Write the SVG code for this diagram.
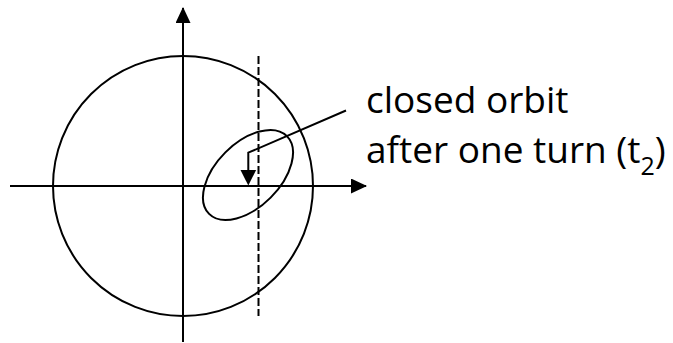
<svg xmlns="http://www.w3.org/2000/svg" width="673" height="343" viewBox="0 0 673 343">
<style>
.ln{stroke:#000;stroke-width:2;fill:none}
.dash{stroke:#000;stroke-width:2;fill:none;stroke-dasharray:8 3}
.head{fill:#000;stroke:none}
.lbl{font-family:"Open Sans","Liberation Sans",sans-serif;font-size:37px;fill:#000}
</style>
<defs>
<marker id="ah" markerWidth="16" markerHeight="16" refX="15" refY="7.5" orient="auto" markerUnits="userSpaceOnUse">
<path d="M0,0 L16,7.5 L0,15 Z" fill="#000"/>
</marker>
</defs>
<rect width="673" height="343" fill="#fff"/>
<g id="axes">
<line class="ln" x1="10" y1="186" x2="366" y2="186" marker-end="url(#ah)"/>
<line class="ln" x1="183" y1="342" x2="183" y2="8" marker-end="url(#ah)"/>
</g>
<g id="circle">
<circle class="ln" cx="183" cy="186" r="130"/>
</g>
<g id="dashed-line">
<line class="dash" x1="258.5" y1="56" x2="258.5" y2="316"/>
</g>
<g id="orbit">
<ellipse class="ln" cx="248" cy="175" rx="55" ry="32" transform="rotate(-45 248 175)"/>
</g>
<g id="connectors">
<polyline class="ln" points="346,110.5 248.3,152.7 248.3,172"/>
<path class="head" d="M240.5,170 L256.1,170 L248.3,185.5 Z"/>
</g>
<g id="label">
<text class="lbl" x="366" y="113">closed orbit</text>
<text class="lbl" x="366" y="163">after one turn (t<tspan font-size="25" dy="12">2</tspan><tspan dy="-12">)</tspan></text>
</g>
</svg>
